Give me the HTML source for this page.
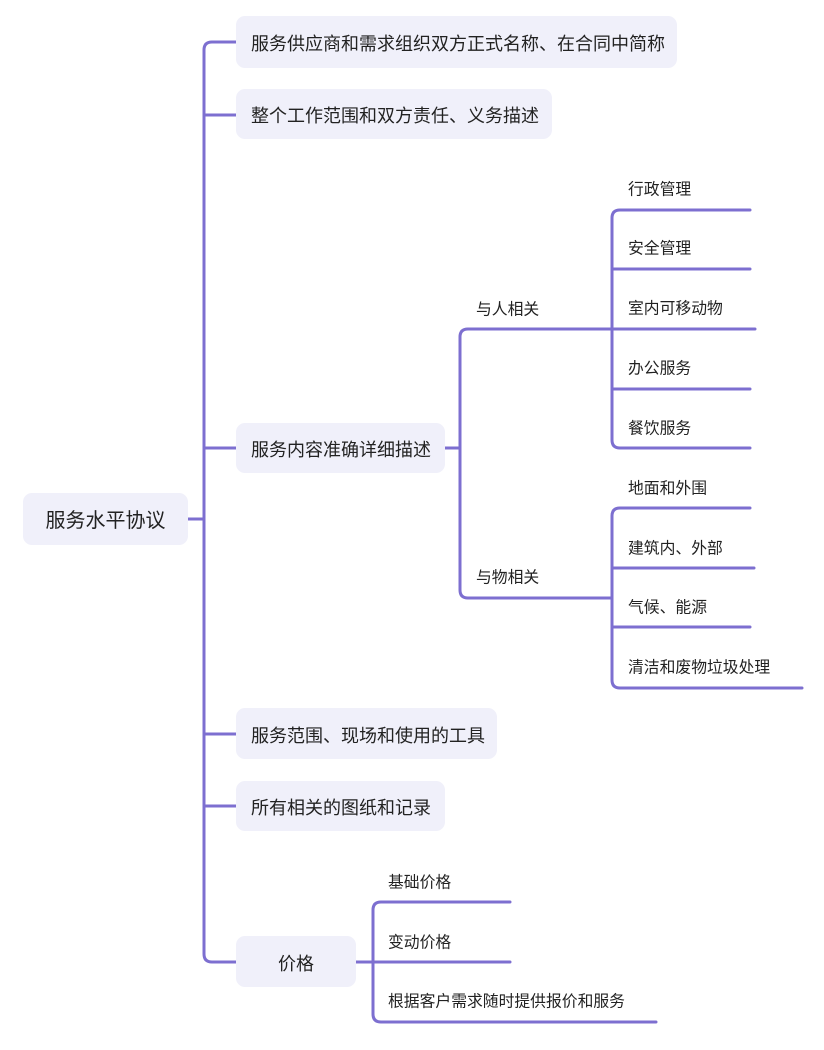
<!DOCTYPE html>
<html>
<head>
<meta charset="utf-8">
<style>
  html, body { margin:0; padding:0; background:#ffffff; }
  body { width:824px; height:1050px; overflow:hidden; }
  svg { display:block; }
  text { font-family: "Liberation Sans", "Noto Sans CJK SC", sans-serif; fill:#222222; }
  .l1 { font-size:18px; }
  .root { font-size:20px; }
  .l2 { font-size:15.8px; }
</style>
</head>
<body>
<svg width="824" height="1050" viewBox="0 0 824 1050" xmlns="http://www.w3.org/2000/svg">
  <g fill="none" stroke="#7d6fd0" stroke-width="3" stroke-linecap="round">
    <path d="M188 519 H204"/>
    <path d="M236 42 H212 Q204 42 204 50 V954 Q204 962 212 962 H236"/>
    <path d="M204 115 H236"/>
    <path d="M204 448 H236"/>
    <path d="M204 734 H236"/>
    <path d="M204 806 H236"/>

    <path d="M445 448 H460"/>
    <path d="M612 329 H468 Q460 329 460 337 V590 Q460 598 468 598 H612"/>

    <path d="M750 210 H620 Q612 210 612 218 V440 Q612 448 620 448 H750"/>
    <path d="M612 269 H750"/>
    <path d="M612 329 H755"/>
    <path d="M612 389 H750"/>

    <path d="M750 508 H620 Q612 508 612 516 V680 Q612 688 620 688 H802"/>
    <path d="M612 568 H754"/>
    <path d="M612 627 H750"/>

    <path d="M356 962 H373"/>
    <path d="M510 902 H381 Q373 902 373 910 V1014 Q373 1022 381 1022 H656"/>
    <path d="M373 962 H510"/>
  </g>

  <g fill="#f0f0fa">
    <rect x="23" y="493" width="165" height="52" rx="9"/>
    <rect x="236" y="16" width="441" height="52" rx="9"/>
    <rect x="236" y="89" width="316" height="50" rx="9"/>
    <rect x="236" y="423" width="209" height="50" rx="9"/>
    <rect x="236" y="708" width="261" height="51" rx="9"/>
    <rect x="236" y="781" width="209" height="50" rx="9"/>
    <rect x="236" y="936" width="120" height="51" rx="9"/>
  </g>

  <g transform="translate(0,1)">
  <text class="root" x="105.5" y="520" text-anchor="middle" dominant-baseline="central">服务水平协议</text>

  <text class="l1" x="251" y="43" dominant-baseline="central">服务供应商和需求组织双方正式名称、在合同中简称</text>
  <text class="l1" x="251" y="115" dominant-baseline="central">整个工作范围和双方责任、义务描述</text>
  <text class="l1" x="251" y="449" dominant-baseline="central">服务内容准确详细描述</text>
  <text class="l1" x="251" y="735" dominant-baseline="central">服务范围、现场和使用的工具</text>
  <text class="l1" x="251" y="807" dominant-baseline="central">所有相关的图纸和记录</text>
  <text class="l1" x="296" y="963" text-anchor="middle" dominant-baseline="central">价格</text>

  <text class="l2" x="476" y="309" dominant-baseline="central">与人相关</text>
  <text class="l2" x="476" y="577" dominant-baseline="central">与物相关</text>

  <text class="l2" x="628" y="189" dominant-baseline="central">行政管理</text>
  <text class="l2" x="628" y="248" dominant-baseline="central">安全管理</text>
  <text class="l2" x="628" y="308" dominant-baseline="central">室内可移动物</text>
  <text class="l2" x="628" y="368" dominant-baseline="central">办公服务</text>
  <text class="l2" x="628" y="428" dominant-baseline="central">餐饮服务</text>

  <text class="l2" x="628" y="488" dominant-baseline="central">地面和外围</text>
  <text class="l2" x="628" y="548" dominant-baseline="central">建筑内、外部</text>
  <text class="l2" x="628" y="607" dominant-baseline="central">气候、能源</text>
  <text class="l2" x="628" y="667" dominant-baseline="central">清洁和废物垃圾处理</text>

  <text class="l2" x="388" y="882" dominant-baseline="central">基础价格</text>
  <text class="l2" x="388" y="942" dominant-baseline="central">变动价格</text>
  <text class="l2" x="388" y="1001" dominant-baseline="central">根据客户需求随时提供报价和服务</text>
  </g>
</svg>
</body>
</html>
